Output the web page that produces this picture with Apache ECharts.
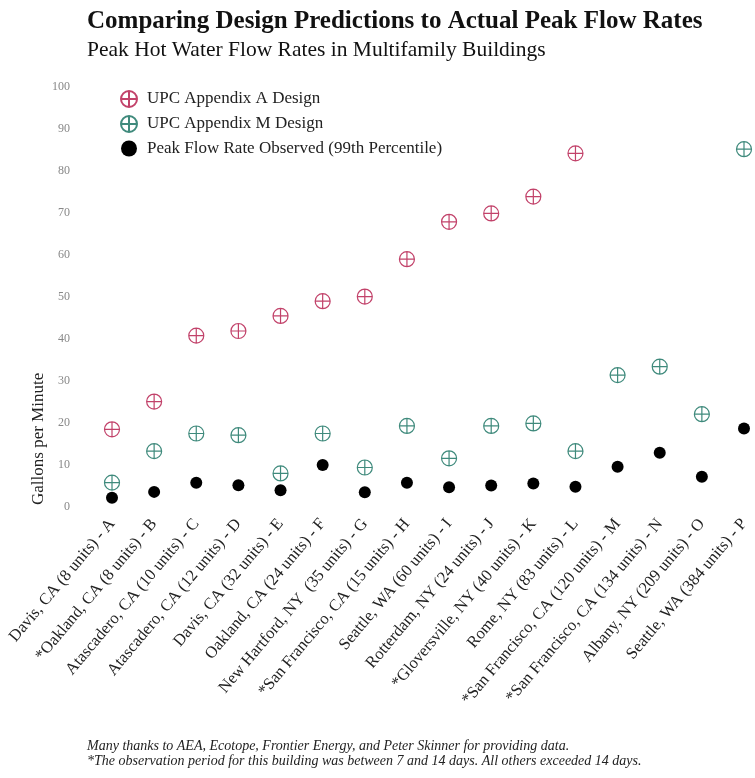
<!DOCTYPE html>
<html>
<head>
<meta charset="utf-8">
<script src="https://cdn.jsdelivr.net/npm/echarts@6/dist/echarts.min.js"></script>
<style>
html,body{margin:0;padding:0;background:#fff;}
#chart{width:755px;height:778px;}
</style>
</head>
<body>
<div id="chart"></div>
<script>
const categories = [
  "Davis, CA (8 units) - A",
  "*Oakland, CA (8 units) - B",
  "Atascadero, CA (10 units) - C",
  "Atascadero, CA (12 units) - D",
  "Davis, CA (32 units) - E",
  "Oakland, CA (24 units) - F",
  "New Hartford, NY  (35 units) - G",
  "*San Francisco, CA (15 units) - H",
  "Seattle, WA (60 units) - I",
  "Rotterdam, NY (24 units) - J",
  "*Gloversville, NY (40 units) - K",
  "Rome, NY (83 units) - L",
  "*San Francisco, CA (120 units) - M",
  "*San Francisco, CA (134 units) - N",
  "Albany, NY (209 units) - O",
  "Seattle, WA (384 units) - P"
];
const appendixA = [18.5, 25.1, 40.8, 41.9, 45.5, 49.0, 50.1, 59.0, 67.9, 69.9, 73.9, 84.2, null, null, null, null];
const appendixM = [5.8, 13.3, 17.5, 17.1, 8.0, 17.5, 9.4, 19.3, 11.6, 19.3, 19.9, 13.3, 31.4, 33.4, 22.1, 85.2];
const observed  = [2.2, 3.6, 5.8, 5.2, 4.0, 10.0, 3.5, 5.8, 4.7, 5.1, 5.6, 4.8, 9.6, 12.9, 7.2, 18.7];
const yTicks = [0, 10, 20, 30, 40, 50, 60, 70, 80, 90, 100];

const FONT = '"Liberation Serif", "Times New Roman", serif';
const plusCircle = 'path://M0,10A10,10 0 1,1 20,10A10,10 0 1,1 0,10Z M0,10L20,10 M10,0L10,20';
const RED = '#c2426a';
const GREEN = '#3f8a7c';

const chart = echarts.init(document.getElementById('chart'), null, {renderer: 'canvas'});
chart.setOption({
  backgroundColor: '#ffffff',
  animation: false,
  textStyle: {fontFamily: FONT},
  title: [{
    text: 'Comparing Design Predictions to Actual Peak Flow Rates',
    left: 82, top: 4,
    textStyle: {fontFamily: FONT, fontSize: 25, fontWeight: 'bold', color: '#111'}
  }, {
    text: 'Peak Hot Water Flow Rates in Multifamily Buildings',
    left: 82, top: 34,
    textStyle: {fontFamily: FONT, fontSize: 21.5, fontWeight: 'normal', color: '#111'}
  }],
  legend: {
    orient: 'vertical',
    left: 115, top: 85,
    itemWidth: 16, itemHeight: 16,
    itemGap: 7,
    textStyle: {fontFamily: FONT, fontSize: 17, color: '#222', padding: [0, 0, 0, 5]},
    data: ['UPC Appendix A Design', 'UPC Appendix M Design', 'Peak Flow Rate Observed (99th Percentile)']
  },
  grid: {left: 112, right: 11, top: 87, bottom: 271, containLabel: false},
  xAxis: {
    type: 'category',
    data: categories,
    boundaryGap: false,
    axisLine: {show: false},
    axisTick: {show: false},
    splitLine: {show: false},
    axisLabel: {
      rotate: 50, interval: 0, margin: 14,
      fontFamily: FONT, fontSize: 16.5, color: '#222'
    }
  },
  yAxis: {
    type: 'value',
    min: 0, max: 100, interval: 10,
    axisLine: {show: false},
    axisTick: {show: false},
    splitLine: {show: false},
    axisLabel: {
      margin: 42, fontFamily: FONT, fontSize: 12, color: '#888',
      formatter: v => (yTicks.indexOf(v) >= 0 ? String(v) : '')
    }
  },
  graphic: [{
    type: 'text',
    x: 39, y: 505,
    rotation: Math.PI / 2,
    style: {text: 'Gallons per Minute', font: '17px ' + FONT, fill: '#222', align: 'left', verticalAlign: 'middle'}
  }, {
    type: 'text',
    x: 87, y: 739,
    style: {text: 'Many thanks to AEA, Ecotope, Frontier Energy, and Peter Skinner for providing data.\n*The observation period for this building was between 7 and 14 days. All others exceeded 14 days.',
      font: 'italic 14px ' + FONT, fill: '#222', lineHeight: 15}
  }],
  series: [{
    name: 'UPC Appendix A Design',
    type: 'scatter',
    data: appendixA,
    symbol: plusCircle,
    symbolSize: 15,
    itemStyle: {color: 'rgba(0,0,0,0)', borderColor: RED, borderWidth: 1.2, opacity: 1},
    z: 3
  }, {
    name: 'UPC Appendix M Design',
    type: 'scatter',
    data: appendixM,
    symbol: plusCircle,
    symbolSize: 15,
    itemStyle: {color: 'rgba(0,0,0,0)', borderColor: GREEN, borderWidth: 1.2, opacity: 1},
    z: 3
  }, {
    name: 'Peak Flow Rate Observed (99th Percentile)',
    type: 'scatter',
    data: observed,
    symbol: 'circle',
    symbolSize: 12,
    itemStyle: {color: '#000', opacity: 1},
    z: 4
  }]
});
</script>
</body>
</html>
